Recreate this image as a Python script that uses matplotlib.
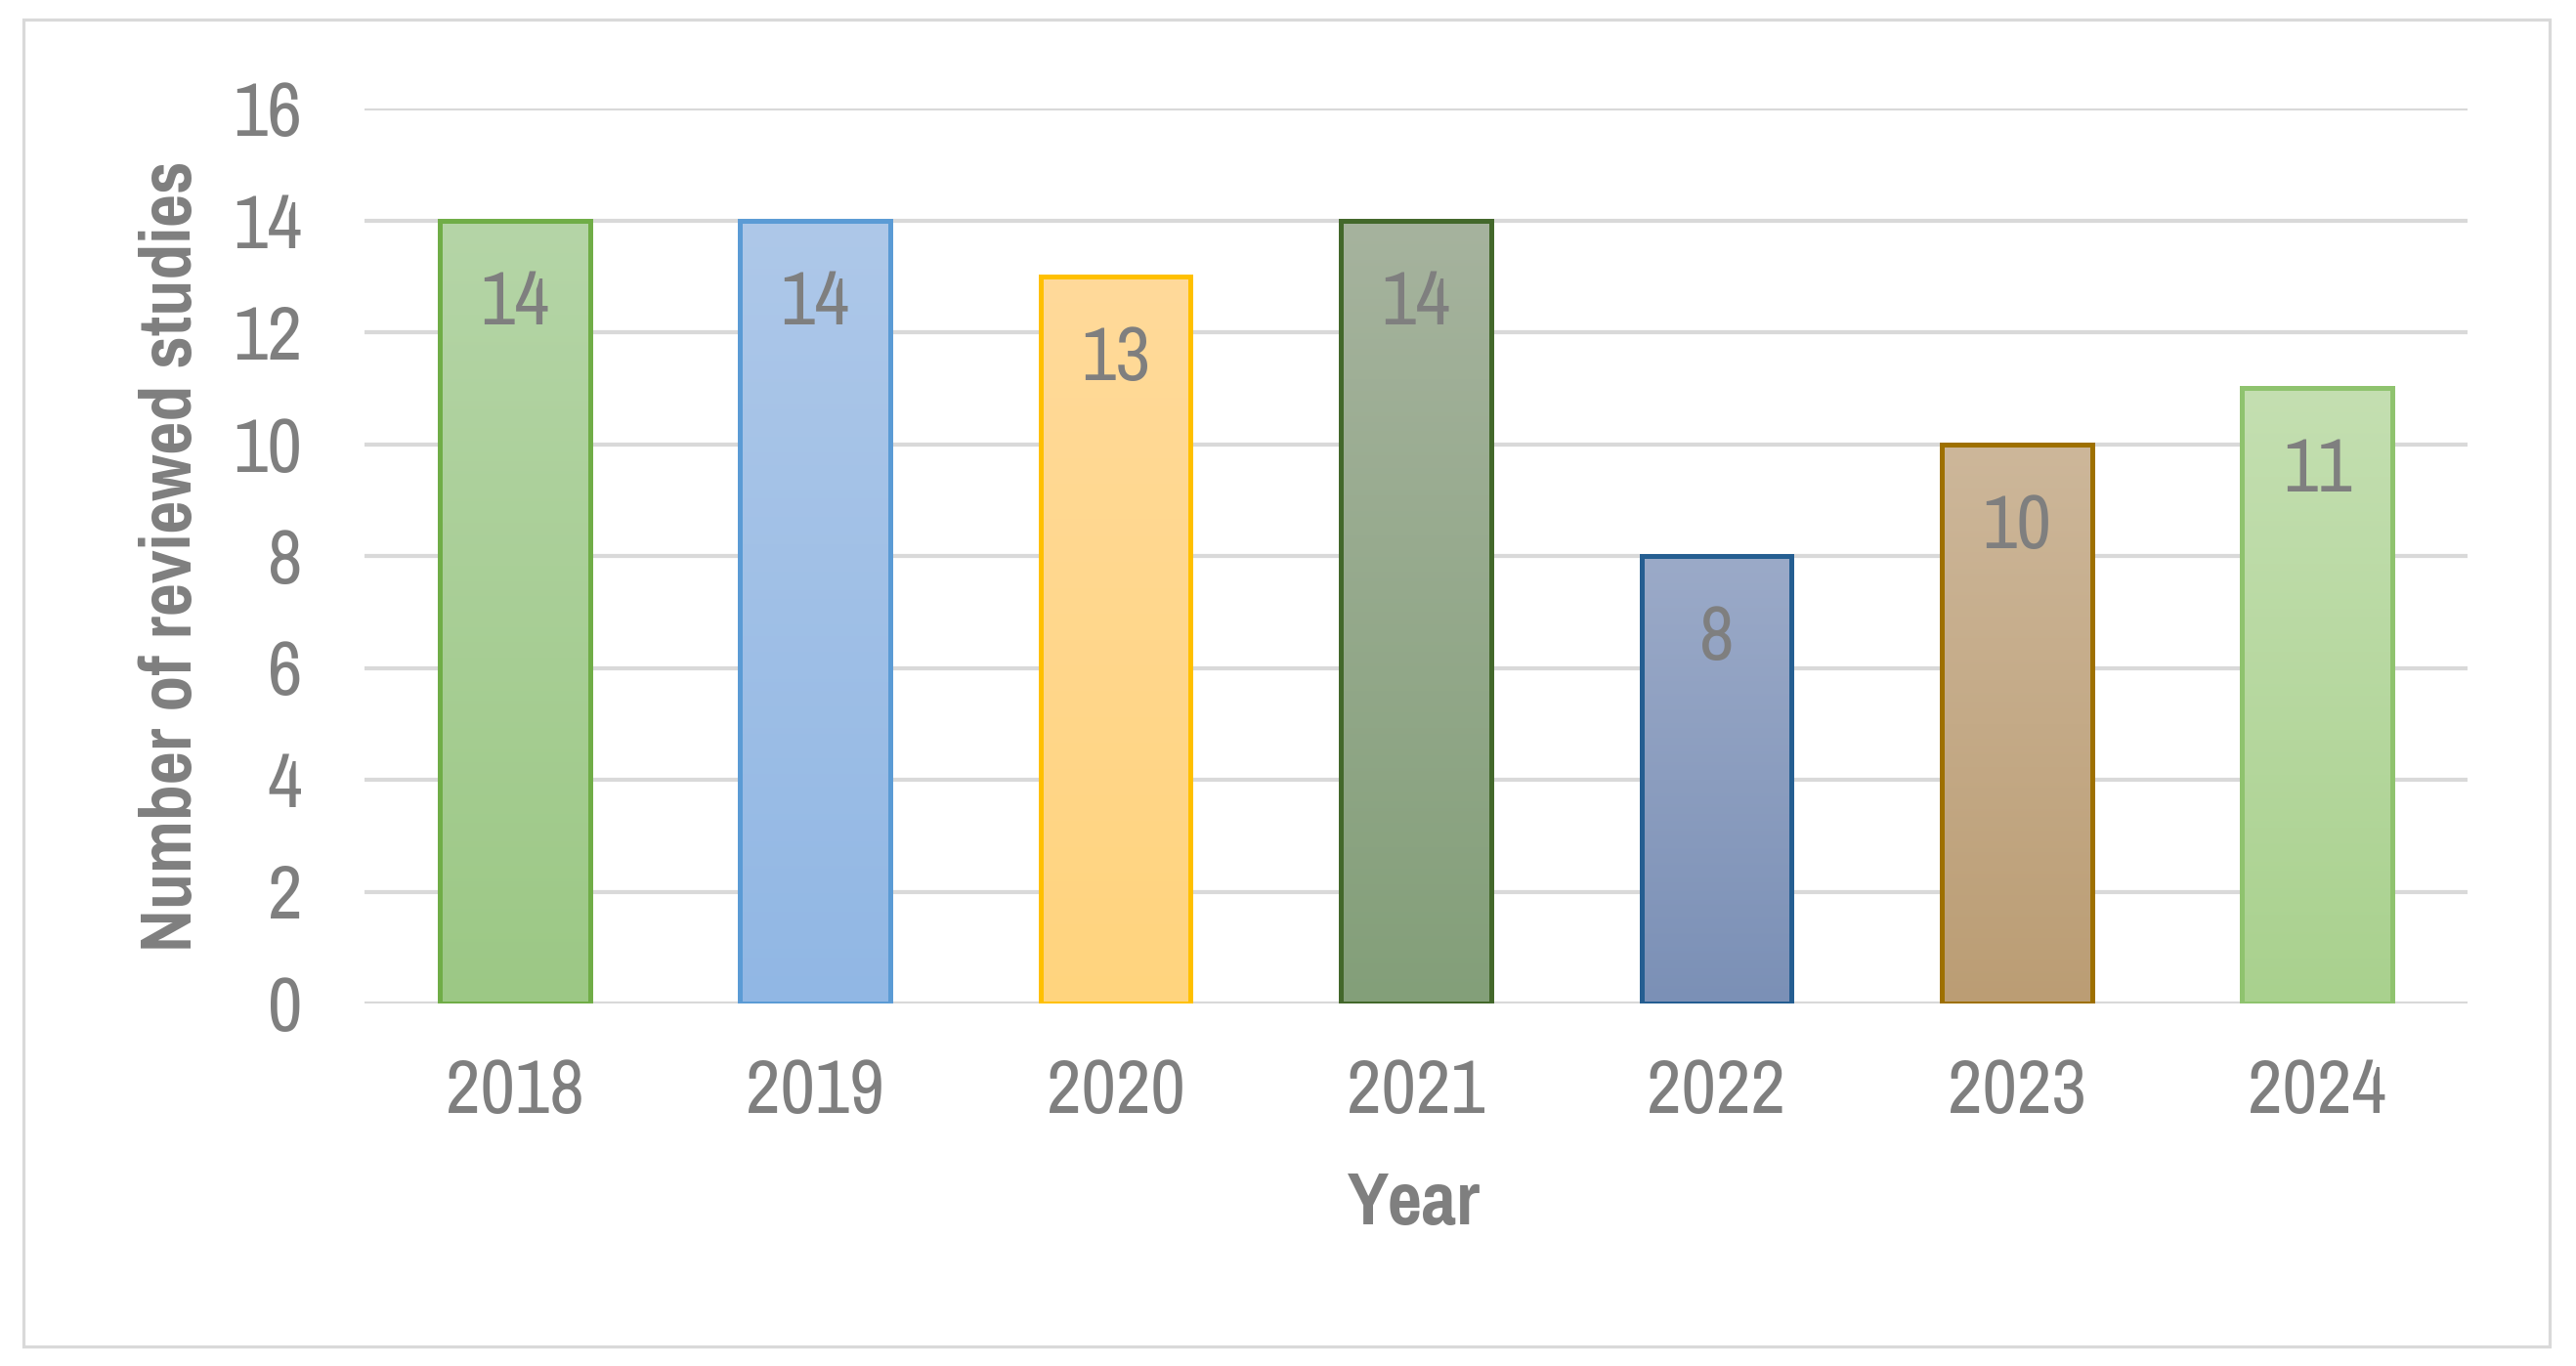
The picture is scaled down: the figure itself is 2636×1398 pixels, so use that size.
import matplotlib
matplotlib.use("Agg")
import matplotlib.pyplot as plt
import matplotlib.patches as mpatches
from matplotlib.colors import LinearSegmentedColormap
from matplotlib import font_manager as fm
import numpy as np

years = ["2018", "2019", "2020", "2021", "2022", "2023", "2024"]
counts = [14, 14, 13, 14, 8, 10, 11]
edge_colors = ["#70AD47", "#5B9BD5", "#FFC000", "#43682B", "#255E91", "#9E7000", "#8FC36E"]
top_colors = ["#B5D5A7", "#AEC8E9", "#FFDA9A", "#A6B39E", "#9BAAC8", "#CDB79A", "#C4DFB1"]
bottom_colors = ["#9CC885", "#91B7E4", "#FFD47E", "#839F79", "#7B90B6", "#BB9D74", "#A9D18E"]
y_ticks = [0, 2, 4, 6, 8, 10, 12, 14, 16]

installed = {f.name for f in fm.fontManager.ttflist}
prefs = ["Liberation Sans Narrow", "Arial Narrow", "Pragati Narrow", "Roboto Condensed",
         "PT Sans Narrow", "Archivo Narrow", "Liberation Sans"]
chosen = [p for p in prefs if p in installed][0]
plt.rcParams['font.family'] = [chosen, 'DejaVu Sans']
TXT = "#7F7F7F"
GRID = "#D9D9D9"

W, H = 2636, 1398
fig = plt.figure(figsize=(W / 100, H / 100), dpi=100)
fig.patch.set_facecolor("white")

fig.patches.append(mpatches.Rectangle((24 / W, 1 - 1378 / H), (2609 - 24) / W, (1378 - 20) / H,
                                      transform=fig.transFigure, fill=False,
                                      edgecolor=GRID, linewidth=2.3, zorder=0))

left, right = 373 / W, 2525 / W
bottom, top = 1 - 1027 / H, 1 - 111 / H
ax = fig.add_axes([left, bottom, right - left, top - bottom])

x = np.arange(len(years))
bars = ax.bar(x, counts, width=0.5, facecolor="none", edgecolor=edge_colors,
              linewidth=3.6, zorder=3)

for b, tc, bc in zip(bars, top_colors, bottom_colors):
    cmap = LinearSegmentedColormap.from_list("g", [bc, tc])
    grad = np.linspace(0, 1, 256).reshape(-1, 1)
    bx, by = b.get_x(), b.get_y()
    im = ax.imshow(grad, cmap=cmap, origin="lower", aspect="auto",
                   extent=(bx, bx + b.get_width(), by, by + b.get_height()), zorder=2)
    im.set_clip_path(b)

for i, v in enumerate(counts):
    ax.annotate(str(v), xy=(i, v), xytext=(0, -61), textcoords="offset points",
                ha="center", va="center", fontsize=61, color=TXT, zorder=4)

ax.set_xlim(-0.5, len(years) - 0.5)
ax.set_ylim(0, 16)
ax.set_yticks(y_ticks)
ax.set_yticklabels([str(t) for t in y_ticks])
ax.set_xticks(x)
ax.set_xticklabels(years)
ax.yaxis.grid(True, color=GRID, linewidth=3.0, zorder=1)
ax.set_axisbelow(True)
for s in ax.spines.values():
    s.set_visible(False)
ax.tick_params(axis="both", length=0, labelsize=61, colors=TXT)
ax.tick_params(axis="y", pad=46)
ax.tick_params(axis="x", pad=40)
ax.set_facecolor("none")

ax.set_ylabel("Number of reviewed studies", fontsize=58, fontweight="bold", color=TXT, va="center")
ax.yaxis.set_label_coords(-0.092, 0.5)
ax.set_xlabel("Year", fontsize=60, fontweight="bold", color=TXT, va="center")
ax.xaxis.set_label_coords(0.499, -0.224)

fig.savefig("out.png", dpi=100, facecolor="white")
